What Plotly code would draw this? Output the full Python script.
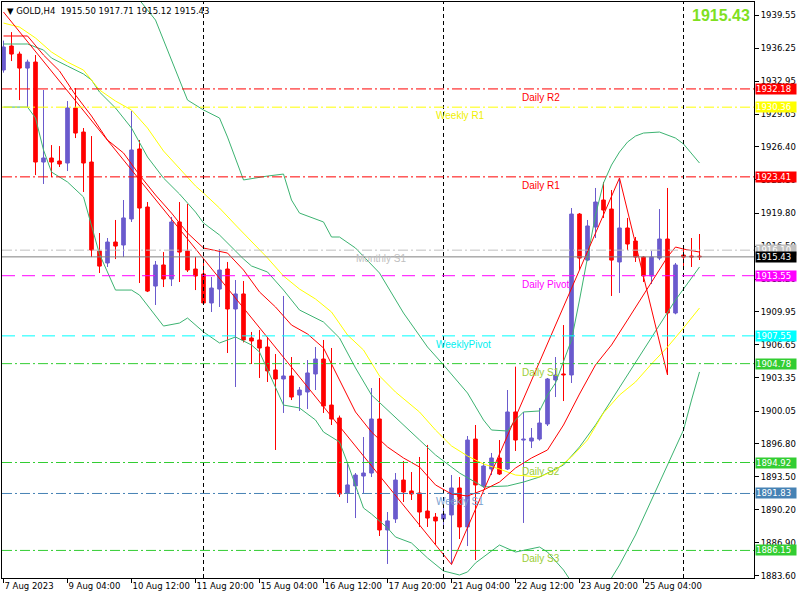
import plotly.graph_objects as go

# GOLD H4 candles, bar 0 = 7 Aug 2023 20:00, one bar every 4 hours (weekends skipped)
opens = [1934.07, 1936.46, 1935.66, 1934.26, 1934.86, 1924.89, 1925.29, 1924.99, 1924.79, 1930.28,
         1927.88, 1924.89, 1916.01, 1914.82, 1916.91, 1916.61, 1919.21, 1926.19, 1920.40, 1912.52,
         1914.62, 1913.22, 1918.91, 1916.01, 1914.22, 1913.72, 1910.83, 1912.22, 1914.22, 1910.23,
         1911.73, 1907.34, 1907.14, 1906.44, 1904.15, 1903.25, 1903.55, 1901.65, 1901.95, 1903.75,
         1905.24, 1900.65, 1899.36, 1891.88, 1892.58, 1893.57, 1893.87, 1899.26, 1888.19, 1889.29,
         1893.17, 1892.08, 1891.88, 1890.08, 1889.48, 1889.29, 1889.69, 1892.38, 1888.49, 1897.26,
         1892.58, 1894.27, 1895.37, 1894.27, 1899.96, 1897.16, 1897.06, 1897.26, 1898.76, 1903.15,
         1903.75, 1903.65, 1919.70, 1915.11, 1918.41, 1921.10, 1920.20, 1914.92, 1918.31, 1917.01,
         1915.41, 1913.52, 1915.31, 1917.21, 1909.83, 1915.61, 1915.51, 1915.50]
highs = [1937.00, 1937.85, 1935.90, 1935.10, 1935.56, 1932.07, 1926.58, 1926.48, 1930.97, 1932.27,
         1928.28, 1927.48, 1917.81, 1917.31, 1919.11, 1921.10, 1929.98, 1927.08, 1920.90, 1915.02,
         1915.91, 1919.41, 1920.90, 1920.70, 1915.41, 1915.00, 1913.42, 1916.21, 1914.92, 1913.12,
         1913.02, 1907.94, 1908.14, 1907.44, 1905.74, 1911.53, 1905.44, 1902.45, 1905.14, 1906.44,
         1907.14, 1906.34, 1899.60, 1894.87, 1893.87, 1897.46, 1902.35, 1903.35, 1889.98, 1893.87,
         1895.07, 1893.97, 1895.47, 1896.67, 1889.88, 1890.60, 1893.67, 1893.47, 1897.56, 1898.66,
         1894.87, 1895.87, 1897.16, 1902.15, 1904.48, 1899.96, 1898.36, 1900.36, 1903.35, 1905.44,
         1908.63, 1920.30, 1919.80, 1919.11, 1922.30, 1922.90, 1922.10, 1923.30, 1919.31, 1917.41,
         1915.50, 1916.01, 1920.20, 1922.30, 1914.82, 1916.21, 1917.31, 1917.71]
lows = [1933.80, 1934.96, 1931.07, 1930.37, 1923.59, 1922.70, 1923.39, 1924.39, 1923.99, 1927.28,
        1921.90, 1915.41, 1913.82, 1914.42, 1915.21, 1915.41, 1918.91, 1912.82, 1911.92, 1910.63,
        1912.42, 1912.52, 1912.92, 1913.92, 1912.12, 1910.63, 1909.93, 1910.43, 1905.84, 1902.45,
        1906.90, 1904.74, 1903.35, 1902.95, 1896.17, 1899.86, 1901.15, 1900.06, 1900.26, 1902.15,
        1899.86, 1898.66, 1891.48, 1890.88, 1889.38, 1891.88, 1893.47, 1887.59, 1884.80, 1888.89,
        1890.98, 1891.18, 1888.49, 1888.49, 1886.69, 1888.60, 1884.75, 1887.29, 1886.59, 1885.19,
        1892.40, 1893.67, 1893.67, 1894.17, 1896.07, 1888.89, 1896.36, 1897.10, 1898.56, 1901.45,
        1901.05, 1902.85, 1914.12, 1915.00, 1917.31, 1919.31, 1911.53, 1911.83, 1916.11, 1914.92,
        1912.92, 1912.72, 1915.10, 1903.65, 1909.70, 1914.12, 1914.42, 1915.12]
closes = [1936.36, 1935.66, 1934.26, 1934.86, 1924.89, 1925.29, 1924.89, 1924.69, 1930.28, 1927.78,
          1924.79, 1916.11, 1914.51, 1916.91, 1916.51, 1919.31, 1926.09, 1920.30, 1912.02, 1914.62,
          1913.22, 1918.91, 1915.91, 1914.12, 1913.52, 1910.83, 1912.32, 1914.12, 1910.23, 1911.73,
          1907.14, 1907.04, 1906.34, 1904.05, 1903.25, 1903.55, 1901.45, 1902.15, 1903.85, 1905.24,
          1900.55, 1899.26, 1891.78, 1892.68, 1893.67, 1893.87, 1899.26, 1888.19, 1889.09, 1893.17,
          1891.98, 1891.78, 1889.98, 1889.38, 1889.09, 1889.78, 1892.38, 1888.49, 1897.16, 1892.68,
          1894.57, 1895.37, 1893.77, 1899.96, 1897.16, 1897.26, 1897.36, 1898.86, 1903.25, 1903.65,
          1903.65, 1919.70, 1915.31, 1918.51, 1920.90, 1920.10, 1915.11, 1918.31, 1916.71, 1915.41,
          1913.52, 1915.41, 1917.21, 1909.83, 1914.62, 1915.41, 1915.41, 1915.43]

# indicator lines at the listed bars
bb_upper_bars = [16, 17, 19, 21, 22, 23, 25, 27, 28, 30, 33, 35, 36, 37, 40, 41, 42, 44, 47, 49,
                 50, 53, 55, 58, 60, 61, 63, 64, 65, 67, 68, 69, 70, 71, 72, 73, 74, 75, 76, 77,
                 78, 79, 80, 82, 84, 85, 86, 87]
bb_upper = [1942.54, 1941.05, 1939.05, 1935.06, 1933.07, 1931.07, 1930.08, 1929.28, 1927.38, 1923.10,
            1923.49, 1923.69, 1921.10, 1919.80, 1918.91, 1917.41, 1917.41, 1916.31, 1913.82, 1911.13,
            1909.83, 1906.44, 1904.65, 1901.85, 1899.16, 1898.16, 1898.06, 1899.16, 1899.96, 1900.06,
            1901.65, 1902.85, 1904.94, 1907.14, 1911.13, 1915.32, 1919.60, 1922.80, 1924.59, 1925.89,
            1926.88, 1927.48, 1927.78, 1927.88, 1927.28, 1926.69, 1925.79, 1924.79]

bb_lower_bars = [0, 3, 4, 5, 6, 8, 10, 11, 12, 14, 16, 17, 20, 22, 23, 25, 27, 29, 31, 32,
                 33, 35, 37, 39, 40, 42, 43, 45, 46, 48, 49, 51, 53, 55, 57, 58, 59, 62, 64, 67,
                 68, 70, 71, 72, 74, 75, 76, 77, 79, 81, 83, 85, 86, 87]
bb_lower = [1930.37, 1930.37, 1929.28, 1926.09, 1923.89, 1922.90, 1921.40, 1918.61, 1915.70, 1912.12,
            1912.12, 1911.62, 1908.53, 1908.83, 1909.33, 1907.94, 1906.84, 1907.44, 1906.64, 1905.94,
            1904.15, 1900.65, 1900.36, 1899.16, 1897.96, 1896.97, 1894.87, 1890.38, 1889.78, 1888.39,
            1887.49, 1886.89, 1885.40, 1884.10, 1883.70, 1884.00, 1884.90, 1886.69, 1885.99, 1886.49,
            1885.99, 1884.20, 1883.00, 1881.21, 1880.21, 1881.21, 1883.40, 1884.70, 1887.69, 1891.18,
            1894.67, 1898.16, 1901.15, 1903.95]

bb_mid_bars = [0, 3, 5, 6, 8, 10, 11, 12, 14, 16, 18, 20, 22, 24, 25, 27, 30, 31, 33, 35,
               37, 40, 42, 44, 46, 49, 52, 54, 57, 60, 63, 65, 67, 70, 72, 74, 76, 78, 80, 82,
               84, 86, 87]
bb_mid = [1936.66, 1936.66, 1936.06, 1935.26, 1934.46, 1933.67, 1933.07, 1931.87, 1930.28, 1928.28,
          1925.39, 1923.29, 1921.70, 1919.90, 1918.81, 1917.61, 1915.22, 1914.52, 1913.92, 1912.12,
          1910.13, 1908.93, 1907.34, 1904.35, 1901.65, 1899.36, 1897.17, 1895.67, 1893.87, 1892.48,
          1892.58, 1892.97, 1893.47, 1894.67, 1896.47, 1898.66, 1901.15, 1903.65, 1906.14, 1908.63,
          1911.13, 1913.32, 1914.42]

slow_ma_bars = [0, 2, 4, 6, 8, 10, 12, 14, 16, 18, 20, 22, 24, 25, 27, 29, 31, 33, 35, 37,
                39, 41, 43, 45, 47, 49, 52, 54, 56, 58, 60, 62, 64, 67, 69, 71, 73, 75, 77, 79,
                81, 83, 85, 87]
slow_ma = [1938.75, 1938.35, 1937.26, 1935.86, 1934.86, 1934.06, 1932.07, 1930.97, 1930.08, 1928.28,
           1925.99, 1924.29, 1922.50, 1921.80, 1920.30, 1918.61, 1917.01, 1915.32, 1913.52, 1912.22,
           1911.23, 1909.93, 1907.64, 1906.14, 1903.55, 1901.95, 1899.96, 1898.16, 1896.57, 1895.57,
           1894.77, 1894.27, 1893.67, 1893.47, 1894.17, 1895.47, 1897.17, 1899.86, 1901.65, 1902.95,
           1904.75, 1906.44, 1908.34, 1910.33]

fast_ma_bars = [0, 3, 5, 7, 9, 11, 13, 15, 17, 19, 21, 23, 25, 27, 28, 30, 32, 34, 36, 38,
                40, 42, 44, 46, 48, 50, 52, 54, 56, 58, 60, 62, 64, 66, 68, 70, 72, 74, 76, 78,
                80, 82, 83, 84, 85, 87]
fast_ma = [1937.46, 1937.46, 1935.56, 1933.97, 1931.57, 1929.48, 1927.08, 1925.79, 1923.59, 1921.60,
           1919.80, 1917.81, 1916.31, 1916.01, 1915.81, 1914.12, 1911.93, 1910.43, 1908.63, 1907.74,
           1906.34, 1903.15, 1899.96, 1897.96, 1896.47, 1895.37, 1894.47, 1892.68, 1891.78, 1891.58,
           1892.18, 1892.97, 1894.37, 1895.37, 1896.17, 1898.66, 1901.75, 1904.65, 1906.64, 1909.13,
           1911.62, 1914.12, 1915.42, 1916.41, 1916.21, 1915.91]

zigzag_bars = [0, 56, 77, 83]
zigzag = [1939.85, 1884.75, 1923.30, 1903.65]

# pivot levels
level_names = ["Daily R2", "Weekly R1", "Daily R1", "Monthly S1", "Daily Pivot",
               "WeeklyPivot", "Daily S1", "Daily S2", "Weekly S1", "Daily S3"]
level_values = [1932.18, 1930.36, 1923.41, 1916.10, 1913.55,
                1907.55, 1904.78, 1894.92, 1891.83, 1886.15]

x_tick_text = ["7 Aug 2023", "9 Aug 04:00", "10 Aug 12:00", "11 Aug 20:00", "15 Aug 04:00",
               "16 Aug 12:00", "17 Aug 20:00", "21 Aug 04:00", "22 Aug 12:00", "23 Aug 20:00",
               "25 Aug 04:00"]
week_start_bars = [25, 55, 85]
y_tick_vals = [1939.55, 1936.25, 1932.95, 1929.65, 1926.40, 1923.10, 1919.80, 1916.50, 1913.20,
               1909.95, 1906.65, 1903.35, 1900.05, 1896.80, 1893.50, 1890.20, 1886.90, 1883.60]

# ---- styles ----
BULL = "#6A5ACD"
BEAR = "#FF0000"
BAND = "#3CB371"
DASHDOT = "10px,3px,2px,3px"
LONGDASH = "13px,7px"
LIME = "#32CD32"
level_style = {
    "Daily R2": ("#FF0000", DASHDOT, "#FF0000", 64.6),
    "Weekly R1": ("#FFFF00", DASHDOT, "#F0F000", 53.75),
    "Daily R1": ("#FF0000", DASHDOT, "#FF0000", 64.6),
    "Monthly S1": ("#C0C0C0", DASHDOT, "#C0C0C0", 43.75),
    "Daily Pivot": ("#FF00FF", LONGDASH, "#FF00FF", 64.6),
    "WeeklyPivot": ("#00FFFF", LONGDASH, "#00F0F0", 53.75),
    "Daily S1": (LIME, DASHDOT, "#9ACD32", 64.6),
    "Daily S2": (LIME, DASHDOT, "#9ACD32", 64.6),
    "Weekly S1": ("#4682B4", DASHDOT, "#7AA0D0", 53.75),
    "Daily S3": (LIME, DASHDOT, "#9ACD32", 64.6),
}
FONT = "DejaVu Sans"

n = len(closes)
bars = list(range(n))
bid = closes[-1]

fig = go.Figure()

# wicks
for want_bull, color in ((True, BULL), (False, BEAR)):
    xs, ys = [], []
    for i in bars:
        if (closes[i] >= opens[i]) == want_bull:
            xs += [i, i, None]
            ys += [lows[i], highs[i], None]
    fig.add_trace(go.Scatter(x=xs, y=ys, mode="lines", line=dict(color=color, width=1),
                             hoverinfo="skip"))

# bodies
body_colors = [BULL if c >= o else BEAR for o, c in zip(opens, closes)]
fig.add_trace(go.Bar(x=bars, y=[abs(c - o) for o, c in zip(opens, closes)],
                     base=[min(o, c) for o, c in zip(opens, closes)],
                     width=0.45, marker=dict(color=body_colors, line=dict(color=body_colors, width=1))))

# indicators
for bx, vals, color in ((bb_upper_bars, bb_upper, BAND), (bb_lower_bars, bb_lower, BAND),
                        (bb_mid_bars, bb_mid, BAND), (slow_ma_bars, slow_ma, "#FFFF00"),
                        (fast_ma_bars, fast_ma, "#FF0000"), (zigzag_bars, zigzag, "#FF0000")):
    fig.add_trace(go.Scatter(x=bx, y=vals, mode="lines", line=dict(color=color, width=1)))

# period separators
for b in week_start_bars:
    fig.add_shape(type="line", xref="x", yref="y domain", x0=b, x1=b, y0=0, y1=1,
                  line=dict(color="black", width=1, dash="4px,3px"), layer="above")

annotations = []
for name, v in zip(level_names, level_values):
    lc, dash, tc, lx = level_style[name]
    fig.add_shape(type="line", xref="x domain", yref="y", x0=0, x1=1, y0=v, y1=v,
                  line=dict(color=lc, width=1, dash=dash), layer="above")
    annotations.append(dict(x=lx, y=v, xref="x", yref="y", text=name, showarrow=False,
                            xanchor="left", yanchor="top", yshift=-1,
                            font=dict(family="Liberation Sans", size=10, color=tc)))
    annotations.append(dict(x=1, y=v, xref="paper", yref="y", text=f"{v:.2f}", showarrow=False,
                            xanchor="left", xshift=1, width=40, height=10, align="left",
                            bgcolor=lc, borderpad=0,
                            font=dict(family=FONT, size=8.5, color="white")))

# bid line
fig.add_shape(type="line", xref="x domain", yref="y", x0=0, x1=1, y0=bid, y1=bid,
              line=dict(color="#808080", width=1), layer="above")
annotations.append(dict(x=1, y=bid, xref="paper", yref="y", text=f"{bid:.2f}", showarrow=False,
                        xanchor="left", xshift=1, width=40, height=10, align="left",
                        bgcolor="black", borderpad=0,
                        font=dict(family=FONT, size=8.5, color="white")))

header = f"▼ GOLD,H4  {opens[-1]:.2f} {highs[-1]:.2f} {lows[-1]:.2f} {closes[-1]:.2f}"
annotations.append(dict(x=0, y=1, xref="paper", yref="paper", text=header, showarrow=False,
                        xanchor="left", yanchor="top", xshift=3, yshift=-2,
                        font=dict(family=FONT, size=8.5, color="black")))
annotations.append(dict(x=1, y=1, xref="paper", yref="paper", text=f"<b>{bid:.2f}</b>",
                        showarrow=False, xanchor="right", yanchor="top", xshift=-2, yshift=-3,
                        font=dict(family="Liberation Sans", size=16, color="#7FE01F")))

fig.update_layout(
    width=800, height=600,
    margin=dict(l=2, r=46, t=2, b=22),
    paper_bgcolor="white", plot_bgcolor="white",
    showlegend=False, barmode="overlay",
    font=dict(family=FONT, size=8.5, color="black"),
    annotations=annotations,
)
fig.update_xaxes(range=[-0.1875, 93.8125], tickmode="array",
                 tickvals=list(range(0, n, 8))[:len(x_tick_text)], ticktext=x_tick_text,
                 ticks="outside", ticklen=4, tickcolor="black", tickangle=0,
                 ticklabelposition="outside right",
                 showgrid=False, zeroline=False, showline=True, linecolor="black", linewidth=1,
                 mirror=True, automargin=False)
fig.update_yaxes(side="right", range=[1883.40, 1940.85], tickmode="array",
                 tickvals=y_tick_vals, ticktext=[f"{v:.2f}" for v in y_tick_vals],
                 ticks="outside", ticklen=4, tickcolor="black",
                 showgrid=False, zeroline=False, showline=True, linecolor="black", linewidth=1,
                 mirror=True, automargin=False)

fig.write_html("out.html", config={"displayModeBar": False},
               post_script="document.body.style.margin='0';")
